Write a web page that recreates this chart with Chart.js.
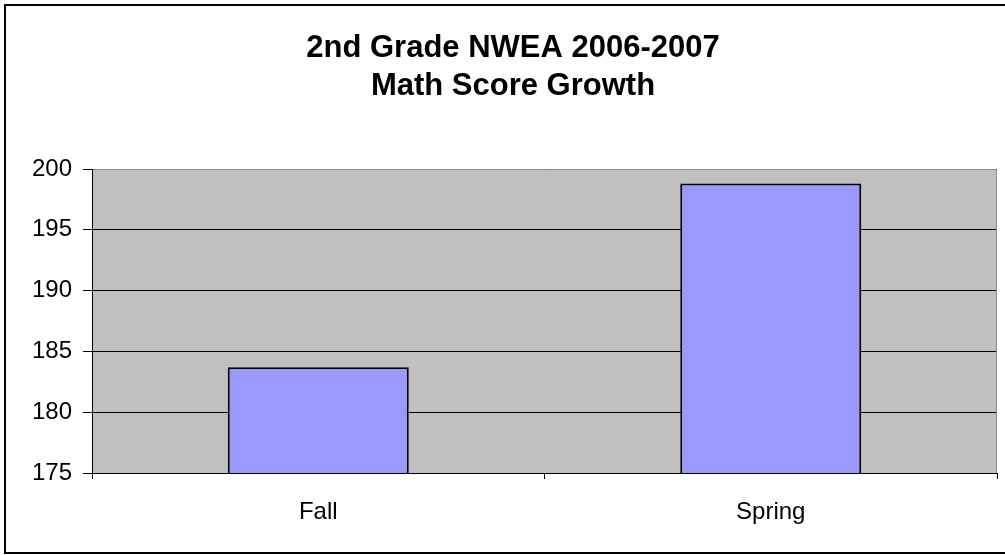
<!DOCTYPE html>
<html>
<head>
<meta charset="utf-8">
<script src="https://cdn.jsdelivr.net/npm/chart.js@4"></script>
<style>
  html, body { margin: 0; padding: 0; background: #fff; }
  #wrap { width: 1005px; height: 555px; position: relative; }
</style>
</head>
<body>
<div id="wrap"><canvas id="scoreChart"></canvas></div>
<script>
const categories = ['Fall', 'Spring'];
const mathScores = [183.7, 198.8];
const titleLines = ['2nd Grade NWEA 2006-2007', 'Math Score Growth'];
const yMin = 175;
const yMax = 200;
const yStep = 5;

// white page, black frame, grey plot area, two-line title
const frameAndPlot = {
    id: 'frameAndPlot',
    beforeDraw(chart) {
        const ctx = chart.ctx;
        const a = chart.chartArea;
        ctx.save();
        ctx.fillStyle = '#ffffff';
        ctx.fillRect(0, 0, chart.width, chart.height);
        ctx.strokeStyle = '#000000';
        ctx.lineWidth = 2;
        ctx.strokeRect(5, 5, chart.width + 10, 548);
        ctx.fillStyle = '#c0c0c0';
        ctx.fillRect(a.left, a.top, a.right - a.left, a.bottom - a.top);

        ctx.fillStyle = '#000000';
        ctx.font = 'bold 31px "Liberation Sans", Arial, sans-serif';
        ctx.textAlign = 'center';
        ctx.textBaseline = 'alphabetic';
        titleLines.forEach((line, i) => {
            ctx.fillText(line, 513, 57 + i * 38);
        });
        ctx.restore();
    },
    afterDraw(chart) {
        const ctx = chart.ctx;
        const a = chart.chartArea;
        ctx.save();
        ctx.strokeStyle = '#8c8c8c';
        ctx.lineWidth = 1;
        ctx.beginPath();
        ctx.moveTo(a.left + 1, a.top + 0.5);
        ctx.lineTo(a.right - 0.5, a.top + 0.5);
        ctx.lineTo(a.right - 0.5, a.bottom);
        ctx.stroke();
        ctx.restore();
    }
};

function createScoreChart() {
    const ctx = document.getElementById('scoreChart').getContext('2d');
    new Chart(ctx, {
        type: 'bar',
        data: {
            labels: categories,
            datasets: [{
                label: 'Math Score',
                data: mathScores,
                backgroundColor: '#9999ff',
                borderColor: '#000000',
                borderWidth: 2,
                borderSkipped: false,
                barPercentage: 0.4,
                categoryPercentage: 1.0
            }]
        },
        options: {
            responsive: true,
            maintainAspectRatio: false,
            animation: false,
            layout: {
                padding: { left: 0, right: 8, top: 169, bottom: 0 }
            },
            plugins: {
                legend: { display: false },
                tooltip: { enabled: false },
                title: { display: false }
            },
            scales: {
                x: {
                    offset: true,
                    border: { display: true, color: '#000000', width: 1 },
                    grid: {
                        display: true,
                        offset: true,
                        drawOnChartArea: false,
                        drawTicks: true,
                        tickLength: 6,
                        color: '#000000'
                    },
                    ticks: {
                        color: '#000000',
                        padding: 19,
                        font: { family: 'Liberation Sans, Arial, sans-serif', size: 24 }
                    },
                    afterFit(scale) { scale.height = 82; }
                },
                y: {
                    min: yMin,
                    max: yMax,
                    border: { display: true, color: '#000000', width: 1 },
                    grid: {
                        color: '#000000',
                        lineWidth: 1,
                        drawTicks: true,
                        tickLength: 9
                    },
                    ticks: {
                        stepSize: yStep,
                        color: '#000000',
                        padding: 11,
                        font: { family: 'Liberation Sans, Arial, sans-serif', size: 24 }
                    },
                    afterFit(scale) { scale.width = 92; }
                }
            }
        },
        plugins: [frameAndPlot]
    });
}

createScoreChart();
</script>
</body>
</html>
